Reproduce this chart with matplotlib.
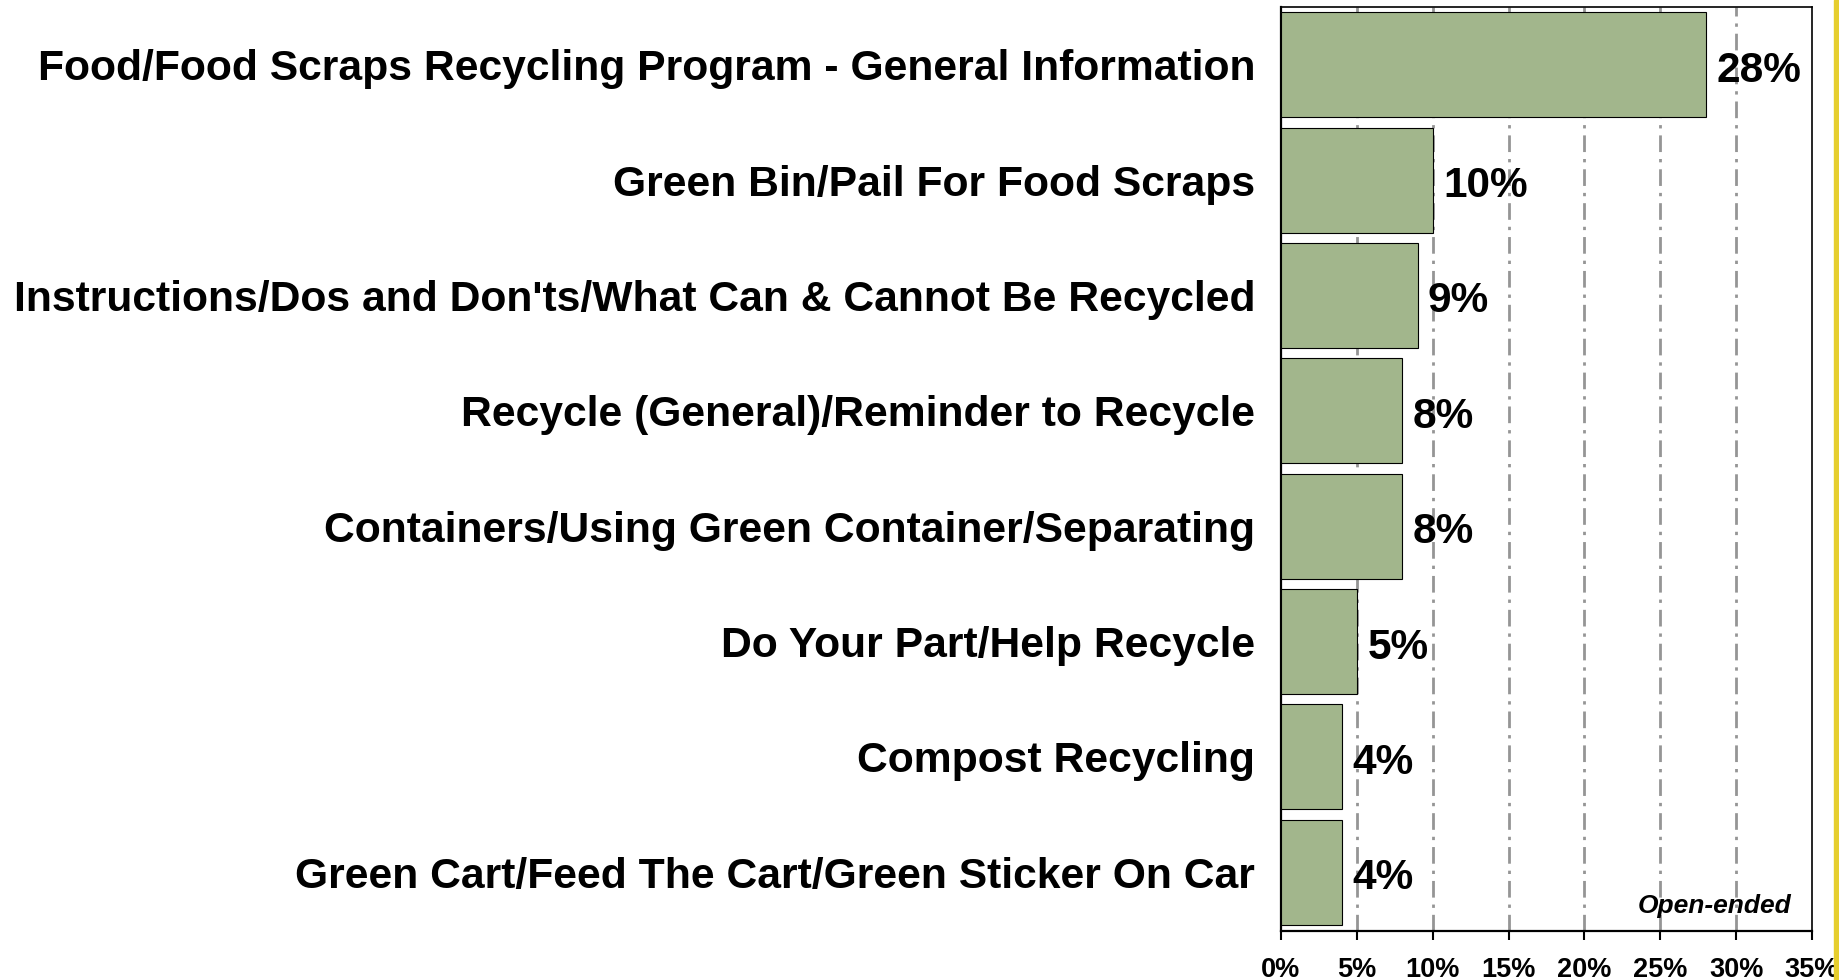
import matplotlib
matplotlib.use("Agg")
import matplotlib.pyplot as plt
from matplotlib.patches import Rectangle

# values
categories = [
    "Food/Food Scraps Recycling Program - General Information",
    "Green Bin/Pail For Food Scraps",
    "Instructions/Dos and Don'ts/What Can & Cannot Be Recycled",
    "Recycle (General)/Reminder to Recycle",
    "Containers/Using Green Container/Separating",
    "Do Your Part/Help Recycle",
    "Compost Recycling",
    "Green Cart/Feed The Cart/Green Sticker On Car",
]
values = [28, 10, 9, 8, 8, 5, 4, 4]
x_ticks = [0, 5, 10, 15, 20, 25, 30, 35]
x_tick_labels = ["0%", "5%", "10%", "15%", "20%", "25%", "30%", "35%"]
note = "Open-ended"

plt.rcParams['font.family'] = ['Liberation Sans', 'DejaVu Sans']
plt.rcParams['font.weight'] = 'bold'

W, H = 1839, 980
fig = plt.figure(figsize=(W / 100, H / 100), dpi=100)
ax = fig.add_axes([1281 / W, (H - 931) / H, (1812 - 1281) / W, (931 - 7) / H])

pos = list(range(len(categories)))
ax.barh(pos, values, height=0.91, color="#A2B68C", edgecolor="black",
        linewidth=0.8, zorder=3)

for p, v in zip(pos, values):
    ax.annotate(f"{v}%", xy=(v, p), xytext=(7.5, -12.3), textcoords="offset points",
                ha="left", va="baseline", fontsize=30.5, fontweight="bold", zorder=4)

ax.set_xlim(0, 35)
ax.set_ylim(7.51, -0.5)

ax.set_yticks(pos)
ax.set_yticklabels(categories, fontsize=30.7, fontweight="bold")
ax.tick_params(axis="y", length=0, pad=18.5)

ax.set_xticks(x_ticks)
ax.set_xticklabels(x_tick_labels, fontsize=19.5, fontweight="bold")
ax.tick_params(axis="x", direction="out", length=6.5, width=1.5, pad=12.5)

# dash-dot grid at the inner ticks
for x in x_ticks[1:-1]:
    ax.axvline(x, color="#959595", linewidth=2, dashes=(6, 2.5, 1.2, 2.5),
               zorder=1)

for side in ["top", "right"]:
    ax.spines[side].set_linewidth(1.2)
for side in ["bottom", "left"]:
    ax.spines[side].set_linewidth(1.6)

ax.text(0.962, 0.02, note, transform=ax.transAxes, ha="right", va="baseline",
        fontsize=19, fontweight="bold", style="italic")

# yellow strip on the right edge
fig.add_artist(Rectangle((1834 / W, 0), 5 / W, 1, transform=fig.transFigure,
                         color="#E6CE2E", zorder=10))

fig.savefig("out.png", dpi=100)
